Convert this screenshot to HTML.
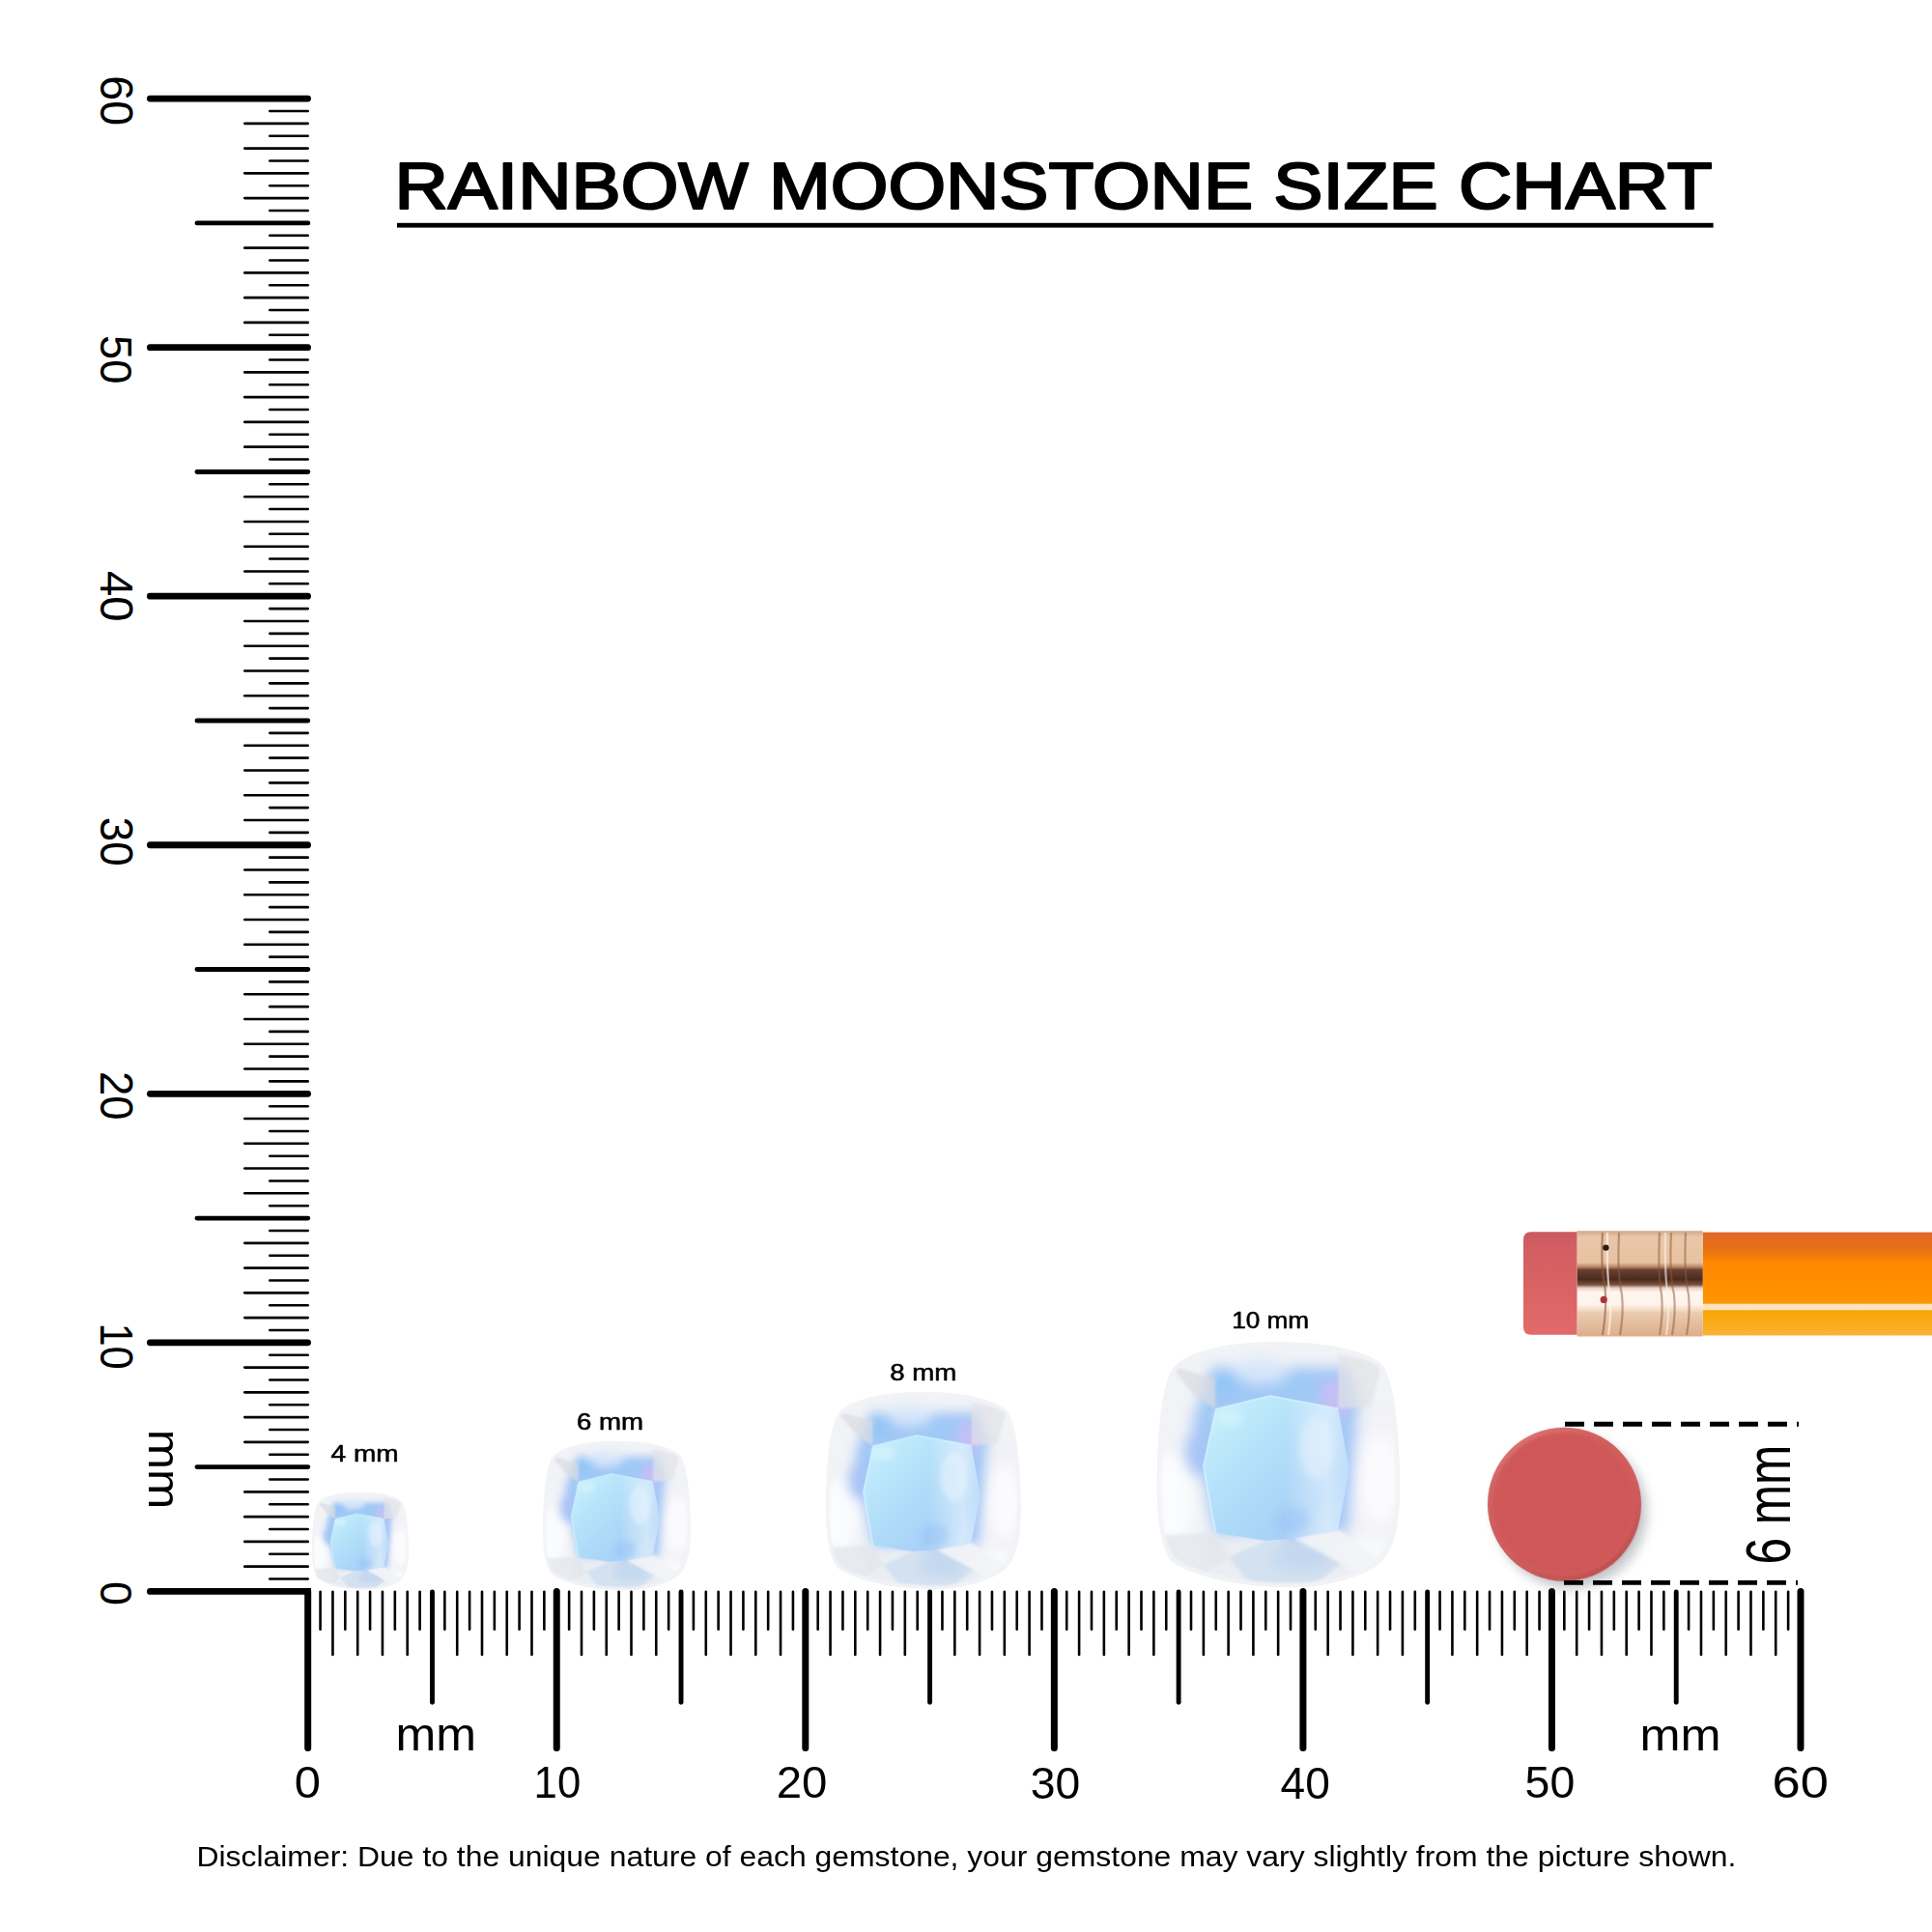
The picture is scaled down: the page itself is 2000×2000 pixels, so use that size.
<!DOCTYPE html>
<html><head><meta charset="utf-8">
<style>
html,body{margin:0;padding:0;background:#fff;width:2000px;height:2000px;overflow:hidden}
svg{display:block}
text{font-family:"Liberation Sans",sans-serif}
</style></head><body>
<svg width="2000" height="2000" viewBox="0 0 2000 2000">
<defs>
 <clipPath id="gclip"><path d="M499,0 C700,0 860,35 923,90 C965,135 995,280 1000,560 C1002,720 985,830 929,893 C860,960 700,1000 570,1002 C380,1002 180,970 69,896 C25,840 5,720 8,560 C12,330 35,150 78,102 C140,35 300,0 499,0 Z"/></clipPath>
 <filter id="gb1" x="-10%" y="-10%" width="120%" height="120%"><feGaussianBlur stdDeviation="28"/></filter>
 <filter id="gb2" x="-10%" y="-10%" width="120%" height="120%"><feGaussianBlur stdDeviation="6"/></filter>
 <filter id="gb4" x="-10%" y="-10%" width="120%" height="120%"><feGaussianBlur stdDeviation="3"/></filter>
 <filter id="gb3" x="-10%" y="-10%" width="120%" height="120%"><feGaussianBlur stdDeviation="14"/></filter>
 <linearGradient id="tableG" x1="0" y1="0" x2="1" y2="1">
  <stop offset="0" stop-color="#CBF4FC"/>
  <stop offset="0.4" stop-color="#B3E0FA"/>
  <stop offset="0.75" stop-color="#A7D1F7"/>
  <stop offset="1" stop-color="#BCDBF6"/>
 </linearGradient>
 <linearGradient id="tableR" x1="0" y1="0" x2="1" y2="0">
  <stop offset="0" stop-color="#FFFFFF" stop-opacity="0"/>
  <stop offset="0.55" stop-color="#FFFFFF" stop-opacity="0"/>
  <stop offset="0.85" stop-color="#F2F8FF" stop-opacity="0.55"/>
  <stop offset="1" stop-color="#E8F4FF" stop-opacity="0.35"/>
 </linearGradient>
 <linearGradient id="eraserG" x1="0" y1="0" x2="0" y2="1">
  <stop offset="0" stop-color="#C95A60"/>
  <stop offset="0.15" stop-color="#D25E62"/>
  <stop offset="0.6" stop-color="#DA6464"/>
  <stop offset="1" stop-color="#E26A6A"/>
 </linearGradient>
 <linearGradient id="ferruleG" x1="0" y1="0" x2="0" y2="1">
  <stop offset="0" stop-color="#D6A886"/>
  <stop offset="0.06" stop-color="#E9C7A8"/>
  <stop offset="0.30" stop-color="#E8C2A2"/>
  <stop offset="0.34" stop-color="#B88868"/>
  <stop offset="0.37" stop-color="#6A4030"/>
  <stop offset="0.46" stop-color="#4A2A1E"/>
  <stop offset="0.51" stop-color="#7A5040"/>
  <stop offset="0.54" stop-color="#E8D0C0"/>
  <stop offset="0.58" stop-color="#FFF6F0"/>
  <stop offset="0.70" stop-color="#FFF2EA"/>
  <stop offset="0.78" stop-color="#EACBAE"/>
  <stop offset="1" stop-color="#DCAE8C"/>
 </linearGradient>
 <linearGradient id="bodyG" x1="0" y1="0" x2="0" y2="1">
  <stop offset="0" stop-color="#E0692A"/>
  <stop offset="0.13" stop-color="#E56E1A"/>
  <stop offset="0.2" stop-color="#EC760E"/>
  <stop offset="0.3" stop-color="#FF8800"/>
  <stop offset="0.66" stop-color="#FF9300"/>
  <stop offset="0.69" stop-color="#FB9A10"/>
  <stop offset="0.695" stop-color="#FFE3BF"/>
  <stop offset="0.75" stop-color="#FFE3BF"/>
  <stop offset="0.76" stop-color="#F8A400"/>
  <stop offset="1" stop-color="#FBB236"/>
 </linearGradient>
 <radialGradient id="circG" cx="0.5" cy="0.5" r="0.5">
  <stop offset="0" stop-color="#D05858"/>
  <stop offset="0.86" stop-color="#CF5757"/>
  <stop offset="0.95" stop-color="#D15C5C"/>
  <stop offset="1" stop-color="#D06262"/>
 </radialGradient>
 <linearGradient id="rimG" x1="0.2" y1="0" x2="0.8" y2="1">
  <stop offset="0" stop-color="#E58A8A" stop-opacity="0.55"/>
  <stop offset="0.45" stop-color="#D05858" stop-opacity="0"/>
  <stop offset="0.6" stop-color="#B04848" stop-opacity="0"/>
  <stop offset="1" stop-color="#A84444" stop-opacity="0.6"/>
 </linearGradient>
 <filter id="rimBlur" x="-10%" y="-10%" width="120%" height="120%"><feGaussianBlur stdDeviation="1.2"/></filter>
 <filter id="circShadow" x="-30%" y="-30%" width="160%" height="160%"><feGaussianBlur stdDeviation="6"/></filter>
 <symbol id="gem" viewBox="0 0 1000 1000" overflow="visible">
  <path d="M499,0 C700,0 860,35 923,90 C965,135 995,280 1000,560 C1002,720 985,830 929,893 C860,960 700,1000 570,1002 C380,1002 180,970 69,896 C25,840 5,720 8,560 C12,330 35,150 78,102 C140,35 300,0 499,0 Z" fill="#F0F2F5"/>
  <g clip-path="url(#gclip)">
   <g filter="url(#gb1)">
    <rect x="-50" y="-50" width="1100" height="1100" fill="#F1F3F6"/>
    <polygon points="230,100 790,100 850,300 790,780 240,790 150,320" fill="#A2C8F6"/>
    <ellipse cx="430" cy="120" rx="120" ry="50" fill="#D6E6FA"/>
    <ellipse cx="290" cy="170" rx="60" ry="50" fill="#92C6F6"/>
    <ellipse cx="570" cy="180" rx="70" ry="45" fill="#9FCAF5"/>
    <ellipse cx="730" cy="240" rx="55" ry="90" fill="#C6BEF6"/>
    <ellipse cx="175" cy="450" rx="55" ry="100" fill="#A8C5F6"/>
    <ellipse cx="60" cy="640" rx="100" ry="190" fill="#FAFCFE"/>
    <polygon points="830,280 1050,260 1050,800 790,790" fill="#F2F2F8"/>
    <ellipse cx="920" cy="560" rx="90" ry="190" fill="#FBFBFD"/>
    <polygon points="-50,820 1050,810 1050,1050 -50,1050" fill="#EAEEF3"/>
    <ellipse cx="560" cy="770" rx="50" ry="40" fill="#8AAEF4"/>
    <ellipse cx="600" cy="880" rx="120" ry="60" fill="#C0D7F2"/>
    <ellipse cx="880" cy="860" rx="90" ry="70" fill="#F8F9FB"/>
    <ellipse cx="140" cy="880" rx="80" ry="60" fill="#F6F8FB"/>
   </g>
   <g filter="url(#gb2)">
    <polygon points="60,95 246,150 246,275 160,215" fill="#D9DCE1" opacity="0.7"/>
    <polygon points="750,50 930,85 880,265 748,272" fill="#E1E2E7" opacity="0.7"/>
    <polygon points="30,790 247,779 300,880 180,960 40,900" fill="#E1E5EB" opacity="0.7"/>
    <polygon points="566,802 748,766 929,893 820,950 760,905" fill="#F2F3F7" opacity="0.85"/>
    <polygon points="452,812 566,802 760,905 640,1000 400,1000 300,880" fill="#C4D8EF" opacity="0.6"/>
   </g>
   <g filter="url(#gb4)">
    <polygon points="249,275 470,220 748,272 794,524 748,766 566,802 452,812 247,779 198,507" fill="url(#tableG)"/>
    <polygon points="249,275 470,220 748,272 794,524 748,766 566,802 452,812 247,779 198,507" fill="url(#tableR)"/>
    <polyline points="247,779 198,507 249,275 470,220 748,272" fill="none" stroke="#D8F6FF" stroke-width="7" opacity="0.75"/>
   </g>
   <g filter="url(#gb3)">
    <ellipse cx="300" cy="310" rx="60" ry="35" fill="#D2F2FC" opacity="0.8"/>
    <ellipse cx="660" cy="430" rx="70" ry="130" fill="#E8F3FD" opacity="0.55"/>
    <ellipse cx="560" cy="730" rx="70" ry="55" fill="#92BEF5" opacity="0.35"/>
   </g>
   <path d="M499,0 C700,0 860,35 923,90 C965,135 995,280 1000,560 C1002,720 985,830 929,893 C860,960 700,1000 570,1002 C380,1002 180,970 69,896 C25,840 5,720 8,560 C12,330 35,150 78,102 C140,35 300,0 499,0 Z" fill="none" stroke="#F2F3F6" stroke-width="34" filter="url(#gb2)"/>
  </g>
 </symbol>
</defs>

<rect width="2000" height="2000" fill="#fff"/>
<g stroke="#000" stroke-linecap="round">
<line x1="155.4" y1="1647.40" x2="318.6" y2="1647.40" stroke-width="6.8"/>
<line x1="279.3" y1="1634.52" x2="318.7" y2="1634.52" stroke-width="2.6"/>
<line x1="253.3" y1="1621.64" x2="318.7" y2="1621.64" stroke-width="2.6"/>
<line x1="279.3" y1="1608.77" x2="318.7" y2="1608.77" stroke-width="2.6"/>
<line x1="253.3" y1="1595.89" x2="318.7" y2="1595.89" stroke-width="2.6"/>
<line x1="279.3" y1="1583.01" x2="318.7" y2="1583.01" stroke-width="2.6"/>
<line x1="253.3" y1="1570.13" x2="318.7" y2="1570.13" stroke-width="2.6"/>
<line x1="279.3" y1="1557.26" x2="318.7" y2="1557.26" stroke-width="2.6"/>
<line x1="253.3" y1="1544.38" x2="318.7" y2="1544.38" stroke-width="2.6"/>
<line x1="279.3" y1="1531.50" x2="318.7" y2="1531.50" stroke-width="2.6"/>
<line x1="204.0" y1="1518.62" x2="318.8" y2="1518.62" stroke-width="4.9"/>
<line x1="279.3" y1="1505.75" x2="318.7" y2="1505.75" stroke-width="2.6"/>
<line x1="253.3" y1="1492.87" x2="318.7" y2="1492.87" stroke-width="2.6"/>
<line x1="279.3" y1="1479.99" x2="318.7" y2="1479.99" stroke-width="2.6"/>
<line x1="253.3" y1="1467.12" x2="318.7" y2="1467.12" stroke-width="2.6"/>
<line x1="279.3" y1="1454.24" x2="318.7" y2="1454.24" stroke-width="2.6"/>
<line x1="253.3" y1="1441.36" x2="318.7" y2="1441.36" stroke-width="2.6"/>
<line x1="279.3" y1="1428.48" x2="318.7" y2="1428.48" stroke-width="2.6"/>
<line x1="253.3" y1="1415.61" x2="318.7" y2="1415.61" stroke-width="2.6"/>
<line x1="279.3" y1="1402.73" x2="318.7" y2="1402.73" stroke-width="2.6"/>
<line x1="155.4" y1="1389.85" x2="318.6" y2="1389.85" stroke-width="6.8"/>
<line x1="279.3" y1="1376.97" x2="318.7" y2="1376.97" stroke-width="2.6"/>
<line x1="253.3" y1="1364.10" x2="318.7" y2="1364.10" stroke-width="2.6"/>
<line x1="279.3" y1="1351.22" x2="318.7" y2="1351.22" stroke-width="2.6"/>
<line x1="253.3" y1="1338.34" x2="318.7" y2="1338.34" stroke-width="2.6"/>
<line x1="279.3" y1="1325.46" x2="318.7" y2="1325.46" stroke-width="2.6"/>
<line x1="253.3" y1="1312.59" x2="318.7" y2="1312.59" stroke-width="2.6"/>
<line x1="279.3" y1="1299.71" x2="318.7" y2="1299.71" stroke-width="2.6"/>
<line x1="253.3" y1="1286.83" x2="318.7" y2="1286.83" stroke-width="2.6"/>
<line x1="279.3" y1="1273.95" x2="318.7" y2="1273.95" stroke-width="2.6"/>
<line x1="204.0" y1="1261.08" x2="318.8" y2="1261.08" stroke-width="4.9"/>
<line x1="279.3" y1="1248.20" x2="318.7" y2="1248.20" stroke-width="2.6"/>
<line x1="253.3" y1="1235.32" x2="318.7" y2="1235.32" stroke-width="2.6"/>
<line x1="279.3" y1="1222.44" x2="318.7" y2="1222.44" stroke-width="2.6"/>
<line x1="253.3" y1="1209.57" x2="318.7" y2="1209.57" stroke-width="2.6"/>
<line x1="279.3" y1="1196.69" x2="318.7" y2="1196.69" stroke-width="2.6"/>
<line x1="253.3" y1="1183.81" x2="318.7" y2="1183.81" stroke-width="2.6"/>
<line x1="279.3" y1="1170.93" x2="318.7" y2="1170.93" stroke-width="2.6"/>
<line x1="253.3" y1="1158.06" x2="318.7" y2="1158.06" stroke-width="2.6"/>
<line x1="279.3" y1="1145.18" x2="318.7" y2="1145.18" stroke-width="2.6"/>
<line x1="155.4" y1="1132.30" x2="318.6" y2="1132.30" stroke-width="6.8"/>
<line x1="279.3" y1="1119.42" x2="318.7" y2="1119.42" stroke-width="2.6"/>
<line x1="253.3" y1="1106.55" x2="318.7" y2="1106.55" stroke-width="2.6"/>
<line x1="279.3" y1="1093.67" x2="318.7" y2="1093.67" stroke-width="2.6"/>
<line x1="253.3" y1="1080.79" x2="318.7" y2="1080.79" stroke-width="2.6"/>
<line x1="279.3" y1="1067.91" x2="318.7" y2="1067.91" stroke-width="2.6"/>
<line x1="253.3" y1="1055.04" x2="318.7" y2="1055.04" stroke-width="2.6"/>
<line x1="279.3" y1="1042.16" x2="318.7" y2="1042.16" stroke-width="2.6"/>
<line x1="253.3" y1="1029.28" x2="318.7" y2="1029.28" stroke-width="2.6"/>
<line x1="279.3" y1="1016.40" x2="318.7" y2="1016.40" stroke-width="2.6"/>
<line x1="204.0" y1="1003.53" x2="318.8" y2="1003.53" stroke-width="4.9"/>
<line x1="279.3" y1="990.65" x2="318.7" y2="990.65" stroke-width="2.6"/>
<line x1="253.3" y1="977.77" x2="318.7" y2="977.77" stroke-width="2.6"/>
<line x1="279.3" y1="964.89" x2="318.7" y2="964.89" stroke-width="2.6"/>
<line x1="253.3" y1="952.02" x2="318.7" y2="952.02" stroke-width="2.6"/>
<line x1="279.3" y1="939.14" x2="318.7" y2="939.14" stroke-width="2.6"/>
<line x1="253.3" y1="926.26" x2="318.7" y2="926.26" stroke-width="2.6"/>
<line x1="279.3" y1="913.38" x2="318.7" y2="913.38" stroke-width="2.6"/>
<line x1="253.3" y1="900.51" x2="318.7" y2="900.51" stroke-width="2.6"/>
<line x1="279.3" y1="887.63" x2="318.7" y2="887.63" stroke-width="2.6"/>
<line x1="155.4" y1="874.75" x2="318.6" y2="874.75" stroke-width="6.8"/>
<line x1="279.3" y1="861.87" x2="318.7" y2="861.87" stroke-width="2.6"/>
<line x1="253.3" y1="849.00" x2="318.7" y2="849.00" stroke-width="2.6"/>
<line x1="279.3" y1="836.12" x2="318.7" y2="836.12" stroke-width="2.6"/>
<line x1="253.3" y1="823.24" x2="318.7" y2="823.24" stroke-width="2.6"/>
<line x1="279.3" y1="810.36" x2="318.7" y2="810.36" stroke-width="2.6"/>
<line x1="253.3" y1="797.49" x2="318.7" y2="797.49" stroke-width="2.6"/>
<line x1="279.3" y1="784.61" x2="318.7" y2="784.61" stroke-width="2.6"/>
<line x1="253.3" y1="771.73" x2="318.7" y2="771.73" stroke-width="2.6"/>
<line x1="279.3" y1="758.85" x2="318.7" y2="758.85" stroke-width="2.6"/>
<line x1="204.0" y1="745.98" x2="318.8" y2="745.98" stroke-width="4.9"/>
<line x1="279.3" y1="733.10" x2="318.7" y2="733.10" stroke-width="2.6"/>
<line x1="253.3" y1="720.22" x2="318.7" y2="720.22" stroke-width="2.6"/>
<line x1="279.3" y1="707.34" x2="318.7" y2="707.34" stroke-width="2.6"/>
<line x1="253.3" y1="694.47" x2="318.7" y2="694.47" stroke-width="2.6"/>
<line x1="279.3" y1="681.59" x2="318.7" y2="681.59" stroke-width="2.6"/>
<line x1="253.3" y1="668.71" x2="318.7" y2="668.71" stroke-width="2.6"/>
<line x1="279.3" y1="655.83" x2="318.7" y2="655.83" stroke-width="2.6"/>
<line x1="253.3" y1="642.96" x2="318.7" y2="642.96" stroke-width="2.6"/>
<line x1="279.3" y1="630.08" x2="318.7" y2="630.08" stroke-width="2.6"/>
<line x1="155.4" y1="617.20" x2="318.6" y2="617.20" stroke-width="6.8"/>
<line x1="279.3" y1="604.32" x2="318.7" y2="604.32" stroke-width="2.6"/>
<line x1="253.3" y1="591.45" x2="318.7" y2="591.45" stroke-width="2.6"/>
<line x1="279.3" y1="578.57" x2="318.7" y2="578.57" stroke-width="2.6"/>
<line x1="253.3" y1="565.69" x2="318.7" y2="565.69" stroke-width="2.6"/>
<line x1="279.3" y1="552.81" x2="318.7" y2="552.81" stroke-width="2.6"/>
<line x1="253.3" y1="539.94" x2="318.7" y2="539.94" stroke-width="2.6"/>
<line x1="279.3" y1="527.06" x2="318.7" y2="527.06" stroke-width="2.6"/>
<line x1="253.3" y1="514.18" x2="318.7" y2="514.18" stroke-width="2.6"/>
<line x1="279.3" y1="501.30" x2="318.7" y2="501.30" stroke-width="2.6"/>
<line x1="204.0" y1="488.43" x2="318.8" y2="488.43" stroke-width="4.9"/>
<line x1="279.3" y1="475.55" x2="318.7" y2="475.55" stroke-width="2.6"/>
<line x1="253.3" y1="462.67" x2="318.7" y2="462.67" stroke-width="2.6"/>
<line x1="279.3" y1="449.79" x2="318.7" y2="449.79" stroke-width="2.6"/>
<line x1="253.3" y1="436.92" x2="318.7" y2="436.92" stroke-width="2.6"/>
<line x1="279.3" y1="424.04" x2="318.7" y2="424.04" stroke-width="2.6"/>
<line x1="253.3" y1="411.16" x2="318.7" y2="411.16" stroke-width="2.6"/>
<line x1="279.3" y1="398.28" x2="318.7" y2="398.28" stroke-width="2.6"/>
<line x1="253.3" y1="385.41" x2="318.7" y2="385.41" stroke-width="2.6"/>
<line x1="279.3" y1="372.53" x2="318.7" y2="372.53" stroke-width="2.6"/>
<line x1="155.4" y1="359.65" x2="318.6" y2="359.65" stroke-width="6.8"/>
<line x1="279.3" y1="346.77" x2="318.7" y2="346.77" stroke-width="2.6"/>
<line x1="253.3" y1="333.90" x2="318.7" y2="333.90" stroke-width="2.6"/>
<line x1="279.3" y1="321.02" x2="318.7" y2="321.02" stroke-width="2.6"/>
<line x1="253.3" y1="308.14" x2="318.7" y2="308.14" stroke-width="2.6"/>
<line x1="279.3" y1="295.26" x2="318.7" y2="295.26" stroke-width="2.6"/>
<line x1="253.3" y1="282.39" x2="318.7" y2="282.39" stroke-width="2.6"/>
<line x1="279.3" y1="269.51" x2="318.7" y2="269.51" stroke-width="2.6"/>
<line x1="253.3" y1="256.63" x2="318.7" y2="256.63" stroke-width="2.6"/>
<line x1="279.3" y1="243.75" x2="318.7" y2="243.75" stroke-width="2.6"/>
<line x1="204.0" y1="230.88" x2="318.8" y2="230.88" stroke-width="4.9"/>
<line x1="279.3" y1="218.00" x2="318.7" y2="218.00" stroke-width="2.6"/>
<line x1="253.3" y1="205.12" x2="318.7" y2="205.12" stroke-width="2.6"/>
<line x1="279.3" y1="192.24" x2="318.7" y2="192.24" stroke-width="2.6"/>
<line x1="253.3" y1="179.37" x2="318.7" y2="179.37" stroke-width="2.6"/>
<line x1="279.3" y1="166.49" x2="318.7" y2="166.49" stroke-width="2.6"/>
<line x1="253.3" y1="153.61" x2="318.7" y2="153.61" stroke-width="2.6"/>
<line x1="279.3" y1="140.73" x2="318.7" y2="140.73" stroke-width="2.6"/>
<line x1="253.3" y1="127.86" x2="318.7" y2="127.86" stroke-width="2.6"/>
<line x1="279.3" y1="114.98" x2="318.7" y2="114.98" stroke-width="2.6"/>
<line x1="155.4" y1="102.10" x2="318.6" y2="102.10" stroke-width="6.8"/>
</g>
<g stroke="#000" stroke-linecap="round">
<line x1="318.70" y1="1647.4" x2="318.70" y2="1809.5" stroke-width="7.0"/>
<line x1="331.58" y1="1647.7" x2="331.58" y2="1686.7" stroke-width="2.6"/>
<line x1="344.45" y1="1647.7" x2="344.45" y2="1713.0" stroke-width="2.6"/>
<line x1="357.33" y1="1647.7" x2="357.33" y2="1686.7" stroke-width="2.6"/>
<line x1="370.21" y1="1647.7" x2="370.21" y2="1713.0" stroke-width="2.6"/>
<line x1="383.09" y1="1647.7" x2="383.09" y2="1686.7" stroke-width="2.6"/>
<line x1="395.96" y1="1647.7" x2="395.96" y2="1713.0" stroke-width="2.6"/>
<line x1="408.84" y1="1647.7" x2="408.84" y2="1686.7" stroke-width="2.6"/>
<line x1="421.72" y1="1647.7" x2="421.72" y2="1713.0" stroke-width="2.6"/>
<line x1="434.60" y1="1647.7" x2="434.60" y2="1686.7" stroke-width="2.6"/>
<line x1="447.48" y1="1647.9" x2="447.48" y2="1762.2" stroke-width="4.9"/>
<line x1="460.35" y1="1647.7" x2="460.35" y2="1686.7" stroke-width="2.6"/>
<line x1="473.23" y1="1647.7" x2="473.23" y2="1713.0" stroke-width="2.6"/>
<line x1="486.11" y1="1647.7" x2="486.11" y2="1686.7" stroke-width="2.6"/>
<line x1="498.99" y1="1647.7" x2="498.99" y2="1713.0" stroke-width="2.6"/>
<line x1="511.86" y1="1647.7" x2="511.86" y2="1686.7" stroke-width="2.6"/>
<line x1="524.74" y1="1647.7" x2="524.74" y2="1713.0" stroke-width="2.6"/>
<line x1="537.62" y1="1647.7" x2="537.62" y2="1686.7" stroke-width="2.6"/>
<line x1="550.50" y1="1647.7" x2="550.50" y2="1713.0" stroke-width="2.6"/>
<line x1="563.37" y1="1647.7" x2="563.37" y2="1686.7" stroke-width="2.6"/>
<line x1="576.25" y1="1647.4" x2="576.25" y2="1809.5" stroke-width="7.0"/>
<line x1="589.13" y1="1647.7" x2="589.13" y2="1686.7" stroke-width="2.6"/>
<line x1="602.00" y1="1647.7" x2="602.00" y2="1713.0" stroke-width="2.6"/>
<line x1="614.88" y1="1647.7" x2="614.88" y2="1686.7" stroke-width="2.6"/>
<line x1="627.76" y1="1647.7" x2="627.76" y2="1713.0" stroke-width="2.6"/>
<line x1="640.64" y1="1647.7" x2="640.64" y2="1686.7" stroke-width="2.6"/>
<line x1="653.51" y1="1647.7" x2="653.51" y2="1713.0" stroke-width="2.6"/>
<line x1="666.39" y1="1647.7" x2="666.39" y2="1686.7" stroke-width="2.6"/>
<line x1="679.27" y1="1647.7" x2="679.27" y2="1713.0" stroke-width="2.6"/>
<line x1="692.15" y1="1647.7" x2="692.15" y2="1686.7" stroke-width="2.6"/>
<line x1="705.02" y1="1647.9" x2="705.02" y2="1762.2" stroke-width="4.9"/>
<line x1="717.90" y1="1647.7" x2="717.90" y2="1686.7" stroke-width="2.6"/>
<line x1="730.78" y1="1647.7" x2="730.78" y2="1713.0" stroke-width="2.6"/>
<line x1="743.66" y1="1647.7" x2="743.66" y2="1686.7" stroke-width="2.6"/>
<line x1="756.53" y1="1647.7" x2="756.53" y2="1713.0" stroke-width="2.6"/>
<line x1="769.41" y1="1647.7" x2="769.41" y2="1686.7" stroke-width="2.6"/>
<line x1="782.29" y1="1647.7" x2="782.29" y2="1713.0" stroke-width="2.6"/>
<line x1="795.17" y1="1647.7" x2="795.17" y2="1686.7" stroke-width="2.6"/>
<line x1="808.04" y1="1647.7" x2="808.04" y2="1713.0" stroke-width="2.6"/>
<line x1="820.92" y1="1647.7" x2="820.92" y2="1686.7" stroke-width="2.6"/>
<line x1="833.80" y1="1647.4" x2="833.80" y2="1809.5" stroke-width="7.0"/>
<line x1="846.68" y1="1647.7" x2="846.68" y2="1686.7" stroke-width="2.6"/>
<line x1="859.56" y1="1647.7" x2="859.56" y2="1713.0" stroke-width="2.6"/>
<line x1="872.43" y1="1647.7" x2="872.43" y2="1686.7" stroke-width="2.6"/>
<line x1="885.31" y1="1647.7" x2="885.31" y2="1713.0" stroke-width="2.6"/>
<line x1="898.19" y1="1647.7" x2="898.19" y2="1686.7" stroke-width="2.6"/>
<line x1="911.07" y1="1647.7" x2="911.07" y2="1713.0" stroke-width="2.6"/>
<line x1="923.94" y1="1647.7" x2="923.94" y2="1686.7" stroke-width="2.6"/>
<line x1="936.82" y1="1647.7" x2="936.82" y2="1713.0" stroke-width="2.6"/>
<line x1="949.70" y1="1647.7" x2="949.70" y2="1686.7" stroke-width="2.6"/>
<line x1="962.58" y1="1647.9" x2="962.58" y2="1762.2" stroke-width="4.9"/>
<line x1="975.45" y1="1647.7" x2="975.45" y2="1686.7" stroke-width="2.6"/>
<line x1="988.33" y1="1647.7" x2="988.33" y2="1713.0" stroke-width="2.6"/>
<line x1="1001.21" y1="1647.7" x2="1001.21" y2="1686.7" stroke-width="2.6"/>
<line x1="1014.09" y1="1647.7" x2="1014.09" y2="1713.0" stroke-width="2.6"/>
<line x1="1026.96" y1="1647.7" x2="1026.96" y2="1686.7" stroke-width="2.6"/>
<line x1="1039.84" y1="1647.7" x2="1039.84" y2="1713.0" stroke-width="2.6"/>
<line x1="1052.72" y1="1647.7" x2="1052.72" y2="1686.7" stroke-width="2.6"/>
<line x1="1065.60" y1="1647.7" x2="1065.60" y2="1713.0" stroke-width="2.6"/>
<line x1="1078.47" y1="1647.7" x2="1078.47" y2="1686.7" stroke-width="2.6"/>
<line x1="1091.35" y1="1647.4" x2="1091.35" y2="1809.5" stroke-width="7.0"/>
<line x1="1104.23" y1="1647.7" x2="1104.23" y2="1686.7" stroke-width="2.6"/>
<line x1="1117.11" y1="1647.7" x2="1117.11" y2="1713.0" stroke-width="2.6"/>
<line x1="1129.98" y1="1647.7" x2="1129.98" y2="1686.7" stroke-width="2.6"/>
<line x1="1142.86" y1="1647.7" x2="1142.86" y2="1713.0" stroke-width="2.6"/>
<line x1="1155.74" y1="1647.7" x2="1155.74" y2="1686.7" stroke-width="2.6"/>
<line x1="1168.62" y1="1647.7" x2="1168.62" y2="1713.0" stroke-width="2.6"/>
<line x1="1181.49" y1="1647.7" x2="1181.49" y2="1686.7" stroke-width="2.6"/>
<line x1="1194.37" y1="1647.7" x2="1194.37" y2="1713.0" stroke-width="2.6"/>
<line x1="1207.25" y1="1647.7" x2="1207.25" y2="1686.7" stroke-width="2.6"/>
<line x1="1220.12" y1="1647.9" x2="1220.12" y2="1762.2" stroke-width="4.9"/>
<line x1="1233.00" y1="1647.7" x2="1233.00" y2="1686.7" stroke-width="2.6"/>
<line x1="1245.88" y1="1647.7" x2="1245.88" y2="1713.0" stroke-width="2.6"/>
<line x1="1258.76" y1="1647.7" x2="1258.76" y2="1686.7" stroke-width="2.6"/>
<line x1="1271.63" y1="1647.7" x2="1271.63" y2="1713.0" stroke-width="2.6"/>
<line x1="1284.51" y1="1647.7" x2="1284.51" y2="1686.7" stroke-width="2.6"/>
<line x1="1297.39" y1="1647.7" x2="1297.39" y2="1713.0" stroke-width="2.6"/>
<line x1="1310.27" y1="1647.7" x2="1310.27" y2="1686.7" stroke-width="2.6"/>
<line x1="1323.14" y1="1647.7" x2="1323.14" y2="1713.0" stroke-width="2.6"/>
<line x1="1336.02" y1="1647.7" x2="1336.02" y2="1686.7" stroke-width="2.6"/>
<line x1="1348.90" y1="1647.4" x2="1348.90" y2="1809.5" stroke-width="7.0"/>
<line x1="1361.78" y1="1647.7" x2="1361.78" y2="1686.7" stroke-width="2.6"/>
<line x1="1374.65" y1="1647.7" x2="1374.65" y2="1713.0" stroke-width="2.6"/>
<line x1="1387.53" y1="1647.7" x2="1387.53" y2="1686.7" stroke-width="2.6"/>
<line x1="1400.41" y1="1647.7" x2="1400.41" y2="1713.0" stroke-width="2.6"/>
<line x1="1413.29" y1="1647.7" x2="1413.29" y2="1686.7" stroke-width="2.6"/>
<line x1="1426.16" y1="1647.7" x2="1426.16" y2="1713.0" stroke-width="2.6"/>
<line x1="1439.04" y1="1647.7" x2="1439.04" y2="1686.7" stroke-width="2.6"/>
<line x1="1451.92" y1="1647.7" x2="1451.92" y2="1713.0" stroke-width="2.6"/>
<line x1="1464.80" y1="1647.7" x2="1464.80" y2="1686.7" stroke-width="2.6"/>
<line x1="1477.67" y1="1647.9" x2="1477.67" y2="1762.2" stroke-width="4.9"/>
<line x1="1490.55" y1="1647.7" x2="1490.55" y2="1686.7" stroke-width="2.6"/>
<line x1="1503.43" y1="1647.7" x2="1503.43" y2="1713.0" stroke-width="2.6"/>
<line x1="1516.31" y1="1647.7" x2="1516.31" y2="1686.7" stroke-width="2.6"/>
<line x1="1529.18" y1="1647.7" x2="1529.18" y2="1713.0" stroke-width="2.6"/>
<line x1="1542.06" y1="1647.7" x2="1542.06" y2="1686.7" stroke-width="2.6"/>
<line x1="1554.94" y1="1647.7" x2="1554.94" y2="1713.0" stroke-width="2.6"/>
<line x1="1567.82" y1="1647.7" x2="1567.82" y2="1686.7" stroke-width="2.6"/>
<line x1="1580.69" y1="1647.7" x2="1580.69" y2="1713.0" stroke-width="2.6"/>
<line x1="1593.57" y1="1647.7" x2="1593.57" y2="1686.7" stroke-width="2.6"/>
<line x1="1606.45" y1="1647.4" x2="1606.45" y2="1809.5" stroke-width="7.0"/>
<line x1="1619.33" y1="1647.7" x2="1619.33" y2="1686.7" stroke-width="2.6"/>
<line x1="1632.20" y1="1647.7" x2="1632.20" y2="1713.0" stroke-width="2.6"/>
<line x1="1645.08" y1="1647.7" x2="1645.08" y2="1686.7" stroke-width="2.6"/>
<line x1="1657.96" y1="1647.7" x2="1657.96" y2="1713.0" stroke-width="2.6"/>
<line x1="1670.84" y1="1647.7" x2="1670.84" y2="1686.7" stroke-width="2.6"/>
<line x1="1683.71" y1="1647.7" x2="1683.71" y2="1713.0" stroke-width="2.6"/>
<line x1="1696.59" y1="1647.7" x2="1696.59" y2="1686.7" stroke-width="2.6"/>
<line x1="1709.47" y1="1647.7" x2="1709.47" y2="1713.0" stroke-width="2.6"/>
<line x1="1722.35" y1="1647.7" x2="1722.35" y2="1686.7" stroke-width="2.6"/>
<line x1="1735.22" y1="1647.9" x2="1735.22" y2="1762.2" stroke-width="4.9"/>
<line x1="1748.10" y1="1647.7" x2="1748.10" y2="1686.7" stroke-width="2.6"/>
<line x1="1760.98" y1="1647.7" x2="1760.98" y2="1713.0" stroke-width="2.6"/>
<line x1="1773.86" y1="1647.7" x2="1773.86" y2="1686.7" stroke-width="2.6"/>
<line x1="1786.73" y1="1647.7" x2="1786.73" y2="1713.0" stroke-width="2.6"/>
<line x1="1799.61" y1="1647.7" x2="1799.61" y2="1686.7" stroke-width="2.6"/>
<line x1="1812.49" y1="1647.7" x2="1812.49" y2="1713.0" stroke-width="2.6"/>
<line x1="1825.37" y1="1647.7" x2="1825.37" y2="1686.7" stroke-width="2.6"/>
<line x1="1838.24" y1="1647.7" x2="1838.24" y2="1713.0" stroke-width="2.6"/>
<line x1="1851.12" y1="1647.7" x2="1851.12" y2="1686.7" stroke-width="2.6"/>
<line x1="1864.00" y1="1647.4" x2="1864.00" y2="1809.5" stroke-width="7.0"/>
</g>
<rect x="315" y="1644" width="7" height="7" fill="#000"/>
<rect x="411" y="230.8" width="1362.6" height="4.8" fill="#000"/>
<!-- gems -->
<use href="#gem" x="322.3" y="1544.7" width="100.4" height="100.8"/>
<use href="#gem" x="560.9" y="1490.9" width="153.7" height="155.8"/>
<use href="#gem" x="853.5" y="1440.5" width="203.2" height="204.5"/>
<use href="#gem" x="1195.7" y="1388" width="253.3" height="255.7"/>
<!-- pencil -->
<rect x="1762.6" y="1275.6" width="240" height="106.9" fill="url(#bodyG)"/>
<rect x="1632.5" y="1274.2" width="130.2" height="109.3" fill="url(#ferruleG)"/>
<g stroke-width="2.2">
 <path d="M1659,1276 Q1657,1310 1661,1330 Q1664,1350 1659,1382" stroke="#8A5A3C" stroke-opacity="0.6" fill="none"/>
 <path d="M1664,1276 Q1663,1320 1667,1345 Q1668,1360 1665,1382" stroke="#FFF4EA" stroke-opacity="0.7" fill="none"/>
 <path d="M1676,1276 Q1674,1320 1679,1340 Q1681,1360 1677,1382" stroke="#8A5A3C" stroke-opacity="0.5" fill="none"/>
 <path d="M1718,1276 Q1716,1320 1720,1340 Q1722,1360 1718,1382" stroke="#8A5A3C" stroke-opacity="0.5" fill="none"/>
 <path d="M1724,1276 Q1723,1320 1727,1345 Q1728,1360 1725,1382" stroke="#FFF4EA" stroke-opacity="0.6" fill="none"/>
 <path d="M1730,1276 Q1728,1320 1733,1340 Q1735,1360 1731,1382" stroke="#8A5A3C" stroke-opacity="0.5" fill="none"/>
 <path d="M1745,1276 Q1743,1320 1748,1340 Q1750,1360 1746,1382" stroke="#8A5A3C" stroke-opacity="0.5" fill="none"/>
</g>
<circle cx="1662.4" cy="1291.6" r="3.2" fill="#2A1A14"/>
<circle cx="1660.2" cy="1345.4" r="3.6" fill="#B0303A"/>
<path d="M1585,1275.3 H1632.5 V1381.8 H1585 Q1577,1381.8 1577,1373.8 V1283.3 Q1577,1275.3 1585,1275.3 Z" fill="url(#eraserG)"/>
<!-- eraser circle -->
<circle cx="1626" cy="1565" r="79" fill="#8A9098" opacity="0.5" filter="url(#circShadow)"/>
<circle cx="1619.5" cy="1557.2" r="79.5" fill="url(#circG)"/>
<circle cx="1619.5" cy="1557.2" r="77" fill="none" stroke="url(#rimG)" stroke-width="5" filter="url(#rimBlur)"/>
<!-- dashed lines -->
<line x1="1620" y1="1474.3" x2="1862" y2="1474.3" stroke="#000" stroke-width="5" stroke-dasharray="20 10"/>
<line x1="1619" y1="1638.4" x2="1861" y2="1638.4" stroke="#000" stroke-width="4.8" stroke-dasharray="20 10"/>

<text transform="translate(104.00,78.30) rotate(90)" font-size="47.36" textLength="51.68" lengthAdjust="spacingAndGlyphs" fill="#000">60</text>
<text transform="translate(104.00,347.00) rotate(90)" font-size="47.07" textLength="50.32" lengthAdjust="spacingAndGlyphs" fill="#000">50</text>
<text transform="translate(104.00,590.90) rotate(90)" font-size="47.36" textLength="52.60" lengthAdjust="spacingAndGlyphs" fill="#000">40</text>
<text transform="translate(104.00,845.80) rotate(90)" font-size="47.36" textLength="50.87" lengthAdjust="spacingAndGlyphs" fill="#000">30</text>
<text transform="translate(104.00,1108.90) rotate(90)" font-size="47.36" textLength="50.55" lengthAdjust="spacingAndGlyphs" fill="#000">20</text>
<text transform="translate(104.00,1369.50) rotate(90)" font-size="47.36" textLength="48.23" lengthAdjust="spacingAndGlyphs" fill="#000">10</text>
<text transform="translate(104.00,1637.00) rotate(90)" font-size="45.45" textLength="24.88" lengthAdjust="spacingAndGlyphs" fill="#000">0</text>
<text transform="translate(154.10,1479.70) rotate(90)" font-size="46.51" textLength="82.64" lengthAdjust="spacingAndGlyphs" fill="#000">mm</text>
<text x="304.80" y="1861.00" font-size="46.64" textLength="27.21" lengthAdjust="spacingAndGlyphs" fill="#000">0</text>
<text x="552.60" y="1861.00" font-size="46.89" textLength="48.59" lengthAdjust="spacingAndGlyphs" fill="#000">10</text>
<text x="803.80" y="1861.00" font-size="45.71" textLength="52.66" lengthAdjust="spacingAndGlyphs" fill="#000">20</text>
<text x="1066.80" y="1861.50" font-size="45.71" textLength="51.50" lengthAdjust="spacingAndGlyphs" fill="#000">30</text>
<text x="1325.60" y="1861.50" font-size="45.71" textLength="51.27" lengthAdjust="spacingAndGlyphs" fill="#000">40</text>
<text x="1578.60" y="1861.00" font-size="46.04" textLength="51.76" lengthAdjust="spacingAndGlyphs" fill="#000">50</text>
<text x="1834.60" y="1861.00" font-size="46.04" textLength="58.37" lengthAdjust="spacingAndGlyphs" fill="#000">60</text>
<text x="409.60" y="1812.20" font-size="47.81" textLength="83.54" lengthAdjust="spacingAndGlyphs" fill="#000">mm</text>
<text x="1697.50" y="1812.10" font-size="46.94" textLength="84.08" lengthAdjust="spacingAndGlyphs" fill="#000">mm</text>
<text x="408.40" y="215.80" font-size="67.77" stroke="#000" stroke-width="2.2" stroke-linejoin="round" textLength="1364.23" lengthAdjust="spacingAndGlyphs" fill="#000">RAINBOW MOONSTONE SIZE CHART</text>
<text x="203.40" y="1932.20" font-size="30.27" textLength="1594.02" lengthAdjust="spacingAndGlyphs" fill="#000">Disclaimer: Due to the unique nature of each gemstone, your gemstone may vary slightly from the picture shown.</text>
<text x="342.50" y="1513.00" font-size="23.99" stroke="#000" stroke-width="0.55" stroke-linejoin="round" textLength="70.11" lengthAdjust="spacingAndGlyphs" fill="#000">4 mm</text>
<text x="597.00" y="1480.00" font-size="23.35" stroke="#000" stroke-width="0.55" stroke-linejoin="round" textLength="69.12" lengthAdjust="spacingAndGlyphs" fill="#000">6 mm</text>
<text x="921.20" y="1428.80" font-size="24.44" stroke="#000" stroke-width="0.55" stroke-linejoin="round" textLength="69.08" lengthAdjust="spacingAndGlyphs" fill="#000">8 mm</text>
<text x="1275.20" y="1374.60" font-size="24.38" stroke="#000" stroke-width="0.55" stroke-linejoin="round" textLength="79.89" lengthAdjust="spacingAndGlyphs" fill="#000">10 mm</text>
<text transform="translate(1852.60,1619.60) rotate(-90)" font-size="64.05" textLength="123.97" lengthAdjust="spacingAndGlyphs" fill="#000">6 mm</text>
</svg></body></html>
